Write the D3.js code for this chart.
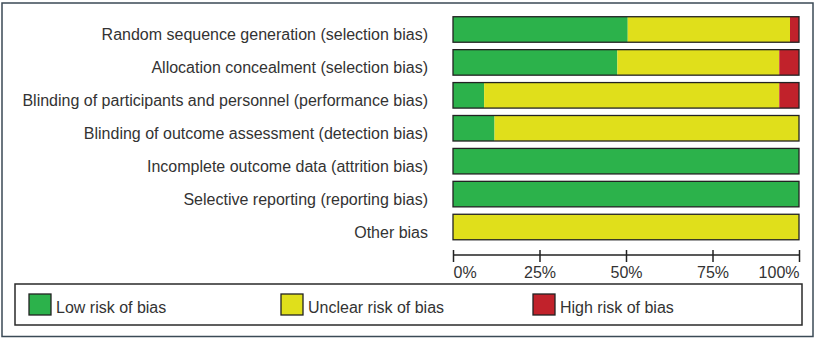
<!DOCTYPE html>
<html>
<head>
<meta charset="utf-8">
<script src="https://cdn.jsdelivr.net/npm/d3@7"></script>
<style>
  html, body { margin: 0; padding: 0; background: #fff; }
  svg text { font-family: "Liberation Sans", Arial, sans-serif; fill: #333; }
</style>
</head>
<body>
<svg id="chart" width="816" height="339"></svg>
<script>
const categories = [
  "Random sequence generation (selection bias)",
  "Allocation concealment (selection bias)",
  "Blinding of participants and personnel (performance bias)",
  "Blinding of outcome assessment (detection bias)",
  "Incomplete outcome data (attrition bias)",
  "Selective reporting (reporting bias)",
  "Other bias"
];
const lowRisk     = [50.5, 47.5, 9.0, 12.0, 100, 100, 0];
const unclearRisk = [46.9, 46.8, 85.3, 88.0, 0, 0, 100];
const highRisk    = [2.6, 5.7, 5.7, 0, 0, 0, 0];
const seriesNames = ["Low risk of bias", "Unclear risk of bias", "High risk of bias"];
const seriesColors = ["#2cb24b", "#e0df1b", "#c1222b"];
const tickValues = [0, 25, 50, 75, 100];
const tickLabels = ["0%", "25%", "50%", "75%", "100%"];

const svg = d3.select("#chart");

// outer frame
svg.append("rect").attr("x", 2).attr("y", 3).attr("width", 811).attr("height", 333.5)
  .attr("fill", "none").attr("stroke", "#3b4a56").attr("stroke-width", 1.5);

const x = d3.scaleLinear().domain([0, 100]).range([453, 799]);
const y = d3.scaleBand().domain(categories).range([13.1, 243.4]).paddingInner(0.225).paddingOuter(0.11);

const data = categories.map((c, i) => ({ cat: c, vals: [lowRisk[i], unclearRisk[i], highRisk[i]] }));
const stack = d3.stack().keys([0, 1, 2]).value((d, k) => d.vals[k]);
const layers = stack(data);

const g = svg.append("g");
layers.forEach((layer, k) => {
  g.selectAll(null).data(layer).enter().append("rect")
    .attr("x", d => x(d[0]))
    .attr("y", d => y(d.data.cat))
    .attr("width", d => Math.max(0, x(d[1]) - x(d[0])))
    .attr("height", y.bandwidth())
    .attr("fill", seriesColors[k]);
});
// bar outlines
g.selectAll(null).data(categories).enter().append("rect")
  .attr("x", x(0)).attr("y", d => y(d))
  .attr("width", x(100) - x(0)).attr("height", y.bandwidth())
  .attr("fill", "none").attr("stroke", "#222").attr("stroke-width", 1.3);

// category labels
svg.append("g").selectAll("text").data(categories).enter().append("text")
  .attr("x", 428)
  .attr("y", d => y(d) + y.bandwidth() / 2 + 11)
  .attr("text-anchor", "end")
  .attr("font-size", 16)
  .text(d => d);

// axis
const axisG = svg.append("g").attr("transform", "translate(0,255)")
  .call(d3.axisBottom(x).tickValues(tickValues).tickSize(7).tickFormat((d, i) => tickLabels[i]));
axisG.select(".domain").attr("stroke", "#222").attr("stroke-width", 1.5).attr("d", `M${x(0)},0H${x(100)}`);
axisG.selectAll(".tick line").attr("y1", -5).attr("stroke", "#222").attr("stroke-width", 1.5);
axisG.selectAll(".tick text")
  .attr("font-size", 16).attr("font-family", null).attr("fill", "#333")
  .attr("dy", null).attr("y", 23)
  .attr("text-anchor", (d, i) => i === 0 ? "start" : (i === tickValues.length - 1 ? "end" : "middle"));

// legend
const leg = svg.append("g");
leg.append("rect").attr("x", 15).attr("y", 284).attr("width", 787).attr("height", 41)
  .attr("fill", "none").attr("stroke", "#2a2a2a").attr("stroke-width", 1.5);
const legItems = leg.selectAll("g.item").data(seriesNames).enter().append("g")
  .attr("transform", (d, i) => `translate(${29 + i * 252},294)`);
legItems.append("rect").attr("width", 22).attr("height", 21)
  .attr("fill", (d, i) => seriesColors[i]).attr("stroke", "#222").attr("stroke-width", 1.3);
legItems.append("text").attr("x", 27).attr("y", 19).attr("font-size", 16).text(d => d);
</script>
</body>
</html>
